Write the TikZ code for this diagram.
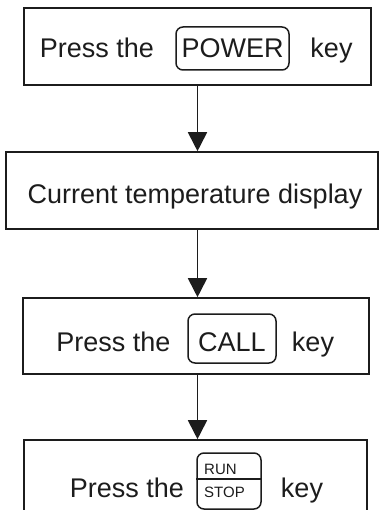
\documentclass[tikz,border=0pt]{standalone}
\usepackage{fontspec}
\setmainfont{Liberation Sans}
\usetikzlibrary{arrows.meta,positioning}
\definecolor{inkgray}{RGB}{28,28,28}
\tikzset{
  stepbox/.style={draw=inkgray, line width=1.6pt, inner sep=0pt, minimum height=77pt},
  keycap/.style={draw=inkgray, line width=1.5pt, rounded corners=7pt, inner sep=0pt},
  steptext/.style={text=inkgray, inner sep=0pt, font=\fontsize{27}{30}\selectfont},
  keytext/.style={text=inkgray, inner sep=0pt, font=\fontsize{15}{16}\selectfont},
  flow/.style={-{Triangle[length=19pt,width=19pt]}, line width=1.8pt, draw=inkgray}
}
\begin{document}
\begin{tikzpicture}[x=1pt, y=-1pt]
        \useasboundingbox (0,0) rectangle (380,510);
        % boxes
        \node[stepbox, minimum width=347pt] (power) at (197.5,46.5) {};
        \node[stepbox, minimum width=372pt] (display) at (192,190.5) {};
        \node[stepbox, minimum width=346pt, minimum height=76pt] (call) at (196,336) {};
        \node[stepbox, minimum width=343pt, minimum height=76pt] (run) at (195.5,478) {};
        % step 1
        \node[steptext, anchor=base] (powerpress) at (97,58) {Press the};
        \node[keycap, minimum width=113pt, minimum height=43pt] (powerkey) at (232.5,48.5) {};
        \node[steptext, anchor=base] at (powerkey.center |- powerpress.base) {POWER};
        \node[steptext, anchor=base] (powerkeyword) at (331.5,58) {key};
        % step 2
        \node[steptext, anchor=base] (displaytext) at (195,204) {Current temperature display};
        % step 3
        \node[steptext, anchor=base] (callpress) at (113.5,351) {Press the};
        \node[keycap, minimum width=88pt, minimum height=49pt] (callkey) at (232,338.5) {};
        \node[steptext, anchor=base] at (callkey.center |- callpress.base) {CALL};
        \node[steptext, anchor=base] (callkeyword) at (313,351) {key};
        % step 4
        \node[steptext, anchor=base] (runpress) at (127,497) {Press the};
        \node[keycap, minimum width=64pt, minimum height=56pt] (runkey) at (229,481) {};
        \draw[draw=inkgray, line width=1.5pt] ([yshift=2pt]runkey.west) -- ([yshift=2pt]runkey.east);
        \node[keytext, anchor=west] (runtop) at (204,469.5) {RUN};
        \node[keytext, anchor=west] (runbottom) at (204,492) {STOP};
        \node[steptext, anchor=base] (runkeyword) at (302,497) {key};
        % arrows
        \draw[flow] (power.south) -- (power.south |- display.north);
        \draw[flow] (power.south |- display.south) -- (power.south |- call.north);
        \draw[flow] (power.south |- call.south) -- (power.south |- run.north);
\end{tikzpicture}
\end{document}
